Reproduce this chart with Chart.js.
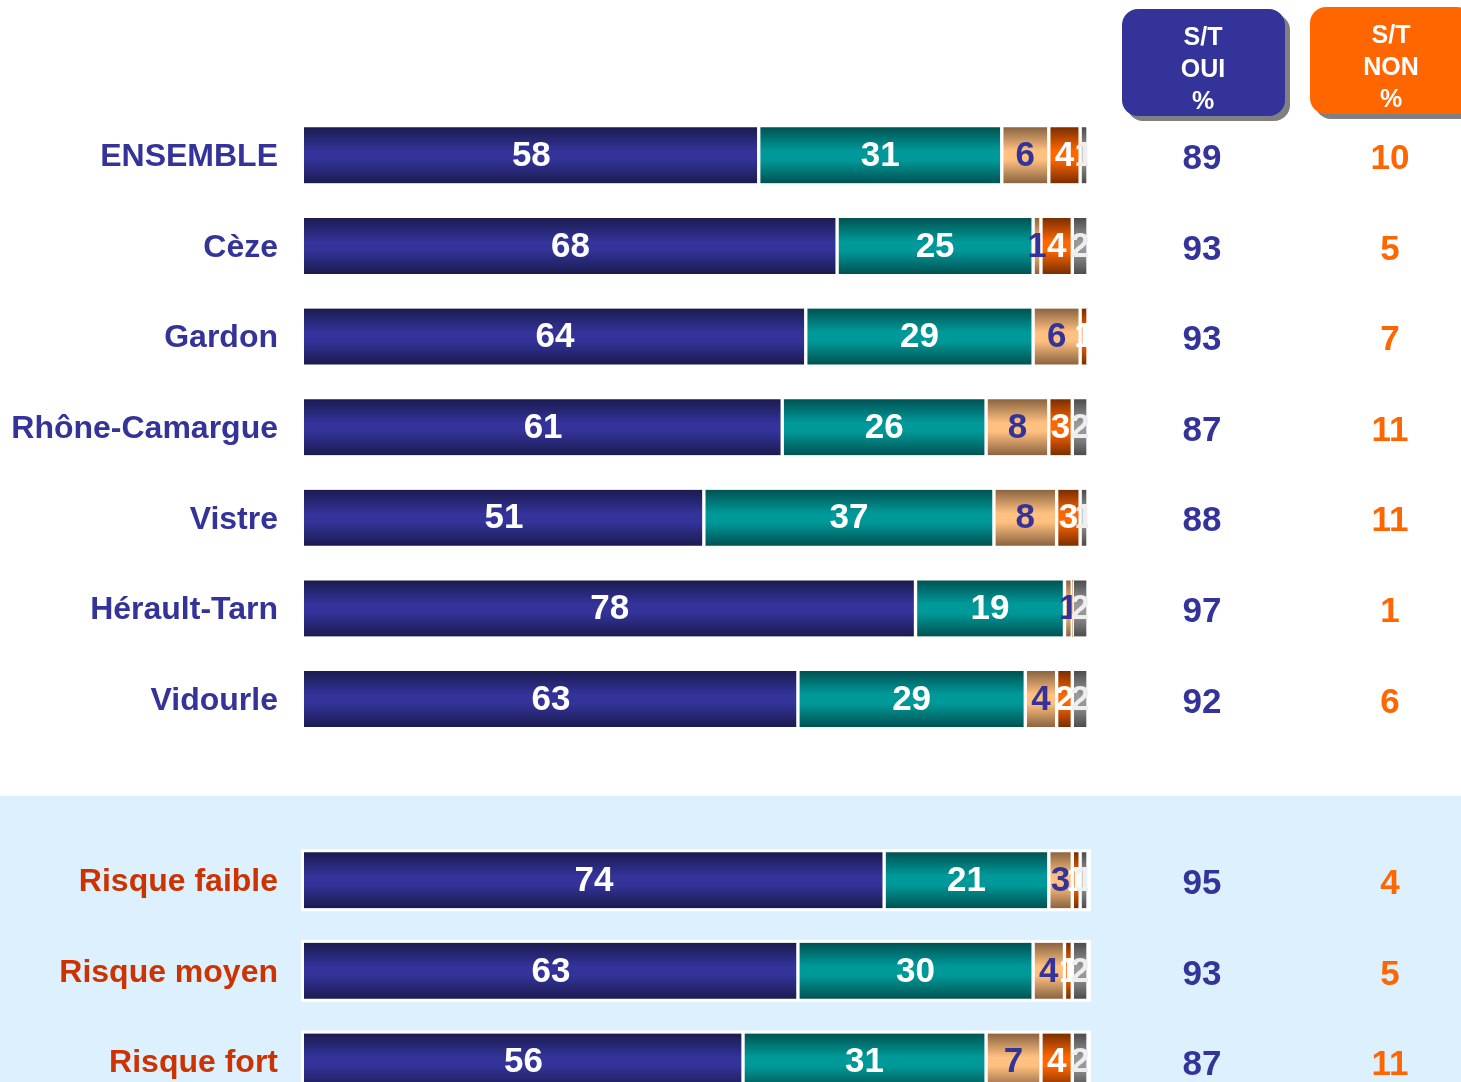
<!DOCTYPE html>
<html lang="fr">
<head>
<meta charset="utf-8">
<title>Satisfaction par bassin</title>
<script src="https://cdn.jsdelivr.net/npm/chart.js@4.4.1/dist/chart.umd.min.js"></script>
<style>
  html, body { margin: 0; padding: 0; background: #ffffff; overflow: hidden; }
  #wrap { width: 1461px; height: 1152px; }
</style>
</head>
<body>
<div id="wrap"><canvas id="chart" width="1461" height="1152"></canvas></div>
<script>
// rows (the empty one leaves the gap before the risk block)
const categories = ["ENSEMBLE", "Cèze", "Gardon", "Rhône-Camargue", "Vistre", "Hérault-Tarn", "Vidourle", "", "Risque faible", "Risque moyen", "Risque fort"];

// percentages per answer
const toutAFaitOui = [58, 68, 64, 61, 51, 78, 63, null, 74, 63, 56];
const plutotOui    = [31, 25, 29, 26, 37, 19, 29, null, 21, 30, 31];
const plutotNon    = [6, 1, 6, 8, 8, 1, 4, null, 3, 4, 7];
const pasDuToutOui = [4, 4, 1, 3, 3, 0, 2, null, 1, 1, 4];
const nsp          = [1, 2, 0, 2, 1, 2, 2, null, 1, 2, 2];

// sub-totals shown on the right
const sousTotalOui = [89, 93, 93, 87, 88, 97, 92, null, 95, 93, 87];
const sousTotalNon = [10, 5, 7, 11, 11, 1, 6, null, 4, 5, 11];

const firstRiskRow = 8;
const FONT = "'Liberation Sans', Arial, sans-serif";
const NAVY = "#333399";
const ORANGE = "#ff6600";
const RISK_RED = "#cc3300";
const BAR_H = 56;

// [edge colour, middle colour] for the vertical shading
const shades = [
  ["#1b1b50", "#333399"],
  ["#005252", "#009999"],
  ["#8a6440", "#ffc080"],
  ["#7a2e00", "#ff6600"],
  ["#4c4c4c", "#999999"]
];
const labelColors = ["#ffffff", "#ffffff", NAVY, "#ffffff", "#eeeeee"];

function shaded(i) {
  return function (ctx) {
    const chart = ctx.chart;
    if (!chart.chartArea || ctx.dataIndex === undefined) return shades[i][1];
    const y = chart.scales.y.getPixelForValue(ctx.dataIndex);
    const g = chart.ctx.createLinearGradient(0, y - BAR_H / 2, 0, y + BAR_H / 2);
    g.addColorStop(0, shades[i][0]);
    g.addColorStop(0.42, shades[i][1]);
    g.addColorStop(0.58, shades[i][1]);
    g.addColorStop(1, shades[i][0]);
    return g;
  };
}

function makeSet(label, data, i) {
  return {
    label: label,
    data: data,
    backgroundColor: shaded(i),
    borderColor: "#ffffff",
    borderWidth: { left: i === 0 ? 0 : 2, right: 2, top: 0, bottom: 0 },
    borderSkipped: false,
    barThickness: BAR_H
  };
}

// light blue band + white frames behind the risk rows
const backdrop = {
  id: "backdrop",
  beforeDraw(chart) {
    const c = chart.ctx;
    const y = chart.scales.y;
    const top = y.getPixelForValue(firstRiskRow - 1) + 6;
    c.save();
    c.fillStyle = "#ffffff";
    c.fillRect(0, 0, chart.width, chart.height);
    c.fillStyle = "#dcf0fd";
    c.fillRect(0, top, chart.width, chart.height - top);
    c.restore();
  },
  beforeDatasetsDraw(chart) {
    const c = chart.ctx;
    const x = chart.scales.x, y = chart.scales.y;
    c.save();
    c.fillStyle = "#ffffff";
    for (let r = firstRiskRow; r < categories.length; r++) {
      const cy = y.getPixelForValue(r);
      const x0 = x.getPixelForValue(0) - 3;
      const x1 = x.getPixelForValue(100) + 3;
      c.fillRect(x0, cy - BAR_H / 2 - 3, x1 - x0, BAR_H + 6);
    }
    c.restore();
  }
};

// numbers inside the segments, plus the two sub-total columns
const valueLabels = {
  id: "valueLabels",
  afterDatasetsDraw(chart) {
    const c = chart.ctx;
    const area = chart.chartArea;
    c.save();
    c.beginPath();
    c.rect(area.left, 0, area.right - area.left, chart.height);
    c.clip();
    c.font = "bold 35px " + FONT;
    c.textAlign = "center";
    c.textBaseline = "middle";
    chart.data.datasets.forEach((ds, i) => {
      const meta = chart.getDatasetMeta(i);
      meta.data.forEach((bar, j) => {
        const v = ds.data[j];
        if (!v) return;
        c.fillStyle = labelColors[i];
        c.fillText(String(v), (bar.x + bar.base) / 2, bar.y + 1);
      });
    });
    c.restore();

    const y = chart.scales.y;
    c.save();
    c.font = "bold 35px " + FONT;
    c.textAlign = "center";
    c.textBaseline = "middle";
    categories.forEach((cat, j) => {
      if (sousTotalOui[j] === null) return;
      const cy = y.getPixelForValue(j) + 4;
      c.fillStyle = NAVY;
      c.fillText(String(sousTotalOui[j]), 1202, cy);
      c.fillStyle = ORANGE;
      c.fillText(String(sousTotalNon[j]), 1390, cy);
    });
    c.restore();
  },
  afterDraw(chart) {
    const c = chart.ctx;
    const boxes = [
      { x: 1122, y: 9, w: 163, h: 107, fill: NAVY, cx: 1203, lines: ["S/T", "OUI", "%"] },
      { x: 1310, y: 7, w: 163, h: 107, fill: ORANGE, cx: 1391, lines: ["S/T", "NON", "%"] }
    ];
    c.save();
    boxes.forEach(b => {
      c.fillStyle = "#808080";
      c.beginPath();
      c.roundRect(b.x + 5, b.y + 5, b.w, b.h, 16);
      c.fill();
      c.fillStyle = b.fill;
      c.beginPath();
      c.roundRect(b.x, b.y, b.w, b.h, 16);
      c.fill();
      c.fillStyle = "#ffffff";
      c.font = "bold 25px " + FONT;
      c.textAlign = "center";
      c.textBaseline = "middle";
      b.lines.forEach((t, k) => c.fillText(t, b.cx, b.y + 29 + k * 32));
    });
    c.restore();
  }
};

new Chart(document.getElementById("chart"), {
  type: "bar",
  data: {
    labels: categories,
    datasets: [
      makeSet("Tout à fait", toutAFaitOui, 0),
      makeSet("Plutôt oui", plutotOui, 1),
      makeSet("Plutôt non", plutotNon, 2),
      makeSet("Pas du tout", pasDuToutOui, 3),
      makeSet("NSP", nsp, 4)
    ]
  },
  options: {
    indexAxis: "y",
    responsive: false,
    animation: false,
    devicePixelRatio: 1,
    layout: { padding: { top: 110, right: 373, bottom: 0, left: 0 } },
    plugins: { legend: { display: false }, tooltip: { enabled: false } },
    scales: {
      x: { stacked: true, min: 0, max: 100, display: false },
      y: {
        stacked: true,
        grid: { display: false, drawTicks: false },
        border: { display: false },
        afterFit(scale) { scale.width = 304; },
        ticks: {
          autoSkip: false,
          padding: 26,
          labelOffset: 2,
          font: { family: FONT, size: 32, weight: "bold" },
          color: ctx => (ctx.index >= firstRiskRow ? RISK_RED : NAVY)
        }
      }
    }
  },
  plugins: [backdrop, valueLabels]
});
</script>
</body>
</html>
